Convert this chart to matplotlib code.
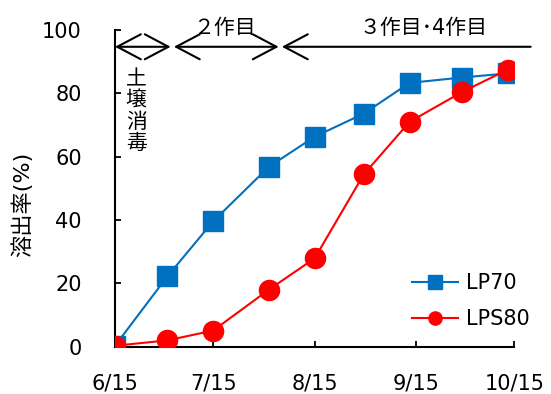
import datetime as dt
import matplotlib
matplotlib.use("Agg")
import matplotlib.pyplot as plt
from matplotlib.lines import Line2D

plt.rcParams['font.family'] = ['DejaVu Sans', 'Noto Sans CJK JP']

# sampling dates and cumulative release (%)
dates = ["06-15", "07-01", "07-15", "08-01", "08-15", "08-30", "09-13", "09-29", "10-13"]
lp70 = [0.3, 22.2, 39.6, 56.8, 66.3, 73.6, 83.3, 85.0, 86.3]
lps80 = [0.3, 2.0, 5.1, 18.0, 27.9, 54.4, 71.0, 80.4, 87.5]

tick_dates = ["06-15", "07-15", "08-15", "09-15", "10-15"]
tick_labels = ["6/15", "7/15", "8/15", "9/15", "10/15"]
y_ticks = [0, 20, 40, 60, 80, 100]

# crop periods along the top of the plot
periods = [("06-15", "07-02"), ("07-03", "08-04"), ("08-05", "10-20")]


def d(s):
    m, day = s.split("-")
    return dt.datetime(2019, int(m), int(day))


W, H = 551, 394
fig = plt.figure(figsize=(W / 100, H / 100), dpi=100)
ax = fig.add_axes([115 / W, 1 - 346.7 / H, (514.3 - 115) / W, (346.7 - 30) / H])

x = [d(s) for s in dates]
blue = "#0070C0"
red = "#FF0000"
ax.plot(x, lp70, color=blue, lw=1.5, marker="s", ms=14, mec=blue, mfc=blue, zorder=3)
ax.plot(x, lps80, color=red, lw=1.5, marker="o", ms=14.5, mec=red, mfc=red, zorder=4)

ax.set_xlim(d("06-15"), d("10-15"))
ax.set_ylim(0, 100)
ax.set_xticks([d(s) for s in tick_dates])
ax.set_xticklabels(tick_labels)
ax.set_yticks(y_ticks)
ax.tick_params(axis="both", direction="in", length=4.5, width=1.3, labelsize=15)
ax.tick_params(axis="x", pad=19)
ax.tick_params(axis="y", pad=24)
for s in ("top", "right"):
    ax.spines[s].set_visible(False)
for s in ("left", "bottom"):
    ax.spines[s].set_linewidth(1.5)

fig.text(22.5 / W, 1 - 204 / H, "溶出率(%)", fontsize=16, rotation=90, ha="center", va="center")

# period arrows
ay = 94.7
aprops = dict(lw=1.5, color="black", shrinkA=0, shrinkB=0, mutation_scale=20)
for i, (a, b) in enumerate(periods):
    style = "<->" if i < 2 else "<-"
    ax.annotate("", xy=(d(b), ay), xytext=(d(a), ay), annotation_clip=False,
                arrowprops=dict(arrowstyle=style + ",head_length=0.85,head_width=0.45", **aprops))

ax.text(d("07-18") + dt.timedelta(hours=12), 100.7, "２作目", fontsize=15, ha="center", va="center")
ax.text(d("09-17") + dt.timedelta(hours=8), 100.7, "３作目･4作目", fontsize=15, ha="center", va="center")
ax.text(d("06-21") + dt.timedelta(hours=12), 87.5, "土\n壌\n消\n毒", fontsize=15, ha="center", va="top",
        linespacing=1.08)

handles = [
    Line2D([], [], color=blue, lw=1.5, marker="s", ms=9.5, mec=blue, mfc=blue),
    Line2D([], [], color=red, lw=1.5, marker="o", ms=9.5, mec=red, mfc=red),
]
fig.legend(handles, ["LP70", "LPS80"], loc="upper left", bbox_to_anchor=(412 / W, 1 - 273 / H),
           frameon=False, fontsize=15, handlelength=2.2, handletextpad=0.4,
           labelspacing=0.78, borderpad=0, borderaxespad=0)

fig.savefig("out.png", dpi=100)
